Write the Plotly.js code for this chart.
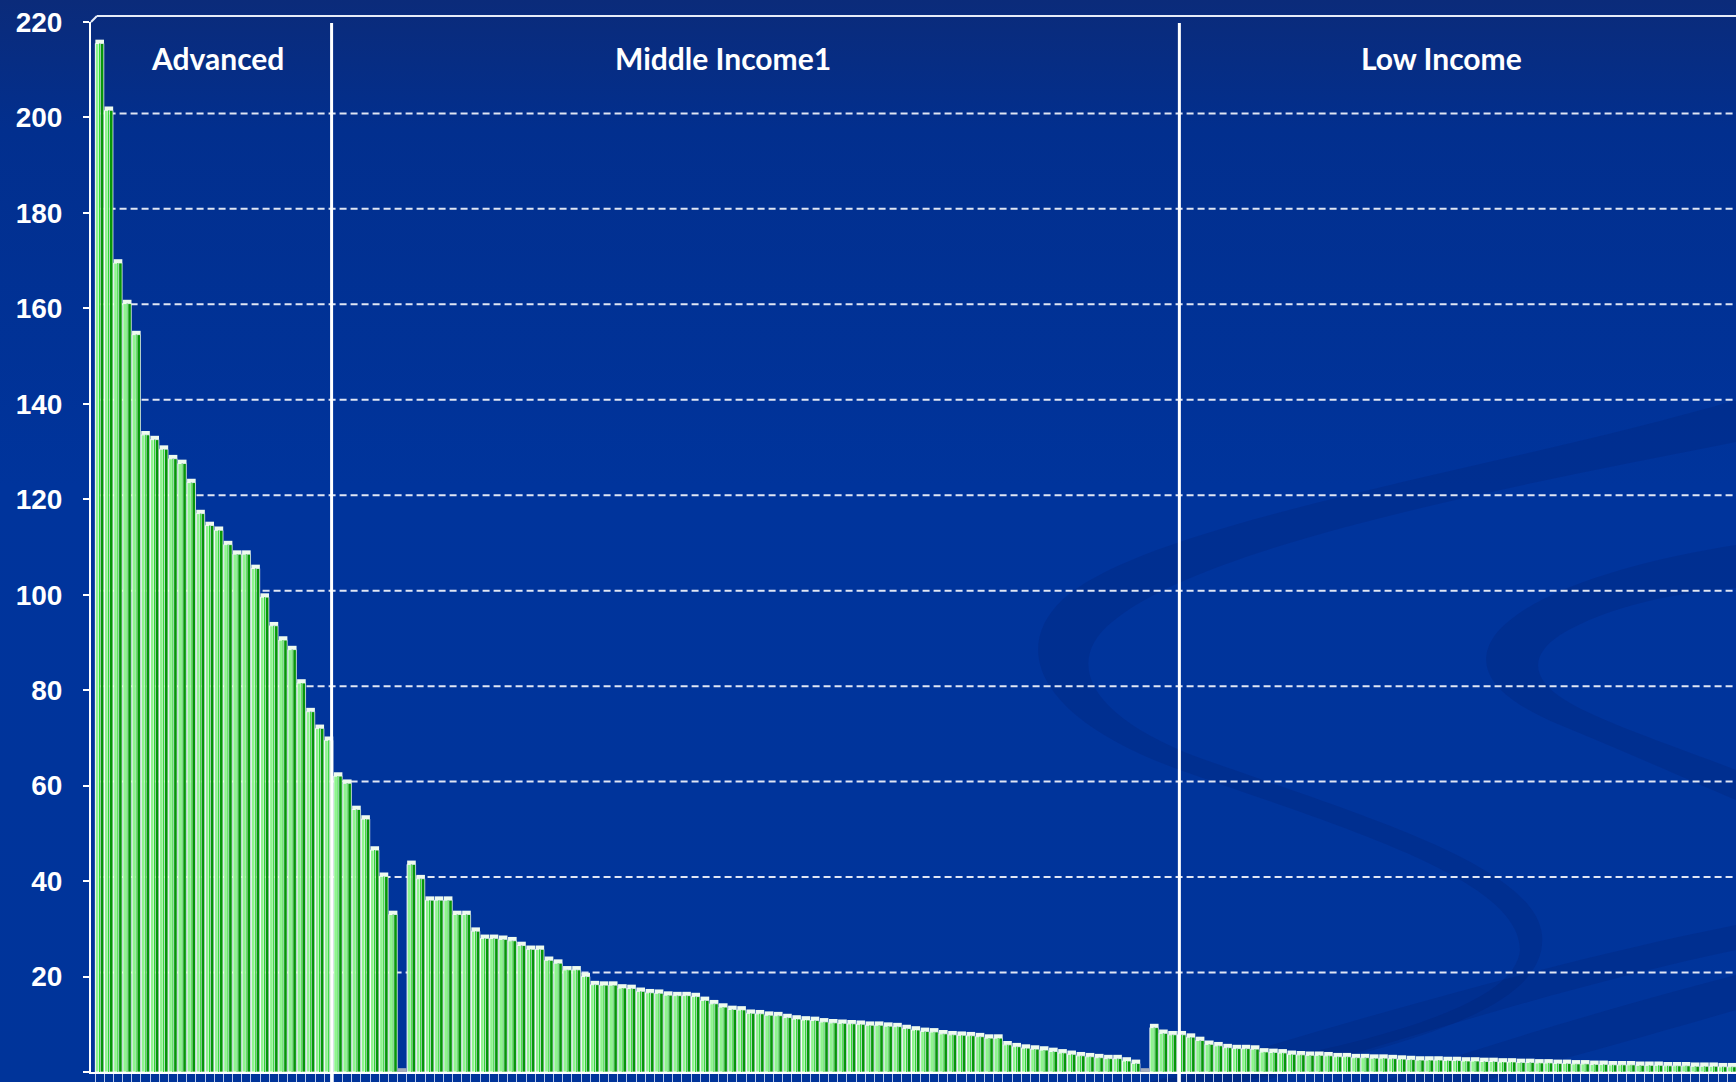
<!DOCTYPE html>
<html>
<head>
<meta charset="utf-8">
<script src="https://cdn.plot.ly/plotly-3.0.1.min.js"></script>
<style>
  html, body { margin: 0; padding: 0; overflow: hidden; background: #00339a; }
  #wrap { position: relative; width: 1736px; height: 1082px; }
  #bg { position: absolute; left: 0; top: 0; }
  #chart { position: absolute; left: 0; top: 0; width: 1736px; height: 1082px; }
</style>
</head>
<body>
<div id="wrap">
  <!-- slide backdrop: blue gradient with soft darker ribbons -->
  <svg id="bg" width="1736" height="1082" viewBox="0 0 1736 1082">
    <defs>
      <linearGradient id="sky" x1="0" y1="0" x2="0" y2="1">
        <stop offset="0" stop-color="#0b2b7a"/>
        <stop offset="0.12" stop-color="#022f8e"/>
        <stop offset="0.45" stop-color="#00349c"/>
        <stop offset="1" stop-color="#00349a"/>
      </linearGradient>
    </defs>
    <rect x="0" y="0" width="1736" height="1082" fill="url(#sky)"/>
    <g fill="rgba(0,20,85,0.15)">
      <path d="M1736 400 C1500 470 1150 520 1062 600 C1010 650 1040 720 1180 770 C1350 830 1520 880 1520 950 C1515 1010 1350 1050 1150 1082 L1240 1082 C1440 1040 1548 1000 1542 935 C1535 865 1360 815 1200 758 C1085 715 1065 660 1112 622 C1200 548 1480 492 1736 442 Z"/>
      <path d="M1736 545 C1640 560 1530 590 1495 635 C1470 670 1500 700 1560 725 C1640 758 1700 785 1736 800 L1736 770 C1680 748 1600 722 1565 700 C1530 678 1530 655 1560 635 C1610 605 1680 592 1736 588 Z"/>
      <path d="M1150 1082 C1350 1020 1560 960 1736 925 L1736 950 C1570 985 1400 1040 1260 1082 Z"/>
      <path d="M1380 1082 C1500 1040 1640 1000 1736 975 L1736 1010 C1650 1035 1560 1060 1480 1082 Z"/>
    </g>
  </svg>
  <div id="chart"></div>
</div>
<script>
// Bar heights, left to right, by income group
const advancedValues = [215.5, 201.5, 169.5, 161, 154.5, 133.5, 132.5, 130.5, 128.5, 127.5,
  123.5, 117, 114.5, 113.5, 110.5, 108.5, 108.5, 105.5, 99.5, 93.5,
  90.5, 88.5, 81.5, 75.5, 72, 69.5];

const middleIncomeValues = [62, 60.5, 55, 53, 46.5, 41, 33, 0,
  43.5, 40.5, 36, 36, 36, 33, 33, 29.5, 28, 28, 27.8, 27.5,
  26.5, 25.7, 25.7, 23.4, 22.8, 21.4, 21.4, 20, 18.3, 18.2,
  18.2, 17.6, 17.5, 16.9, 16.6, 16.5, 16.1, 16, 16, 15.8,
  15, 14.3, 13.6, 13.1, 13, 12.3, 12.2, 11.9, 11.8, 11.4,
  11.1, 10.9, 10.8, 10.5, 10.3, 10.2, 10.1, 10, 9.8, 9.8,
  9.6, 9.5, 9.1, 8.8, 8.5, 8.4, 8, 7.8, 7.7, 7.6,
  7.4, 7.1, 7.1, 5.7, 5.3, 5.0, 4.8, 4.6, 4.3, 4.0,
  3.7, 3.4, 3.2, 3.0, 2.8, 2.8, 2.3, 1.8, 0,
  9.3, 8.1, 7.8];

const lowIncomeValues = [7.8, 7.3, 6.6, 5.8, 5.5, 5.1, 4.9, 4.9, 4.8, 4.2,
  4.1, 4.0, 3.7, 3.6, 3.5, 3.5, 3.4, 3.2, 3.2, 3.0,
  3.0, 2.9, 2.9, 2.8, 2.7, 2.6, 2.5, 2.5,
  2.5, 2.4, 2.4, 2.3, 2.3, 2.2, 2.2, 2.1, 2.1, 2.0,
  2.0, 1.9, 1.9, 1.8, 1.8, 1.7, 1.7, 1.6, 1.6, 1.5,
  1.5, 1.5, 1.4, 1.4, 1.4, 1.3, 1.3, 1.3, 1.2, 1.2,
  1.2, 1.1, 1.1];

const groupLabels = ["Advanced", "Middle Income1", "Low Income"];
const yTickValues = [0, 20, 40, 60, 80, 100, 120, 140, 160, 180, 200, 220];

const values = advancedValues.concat(middleIncomeValues, lowIncomeValues);
const idx = values.map((_, i) => i);

// pseudo-3D column: light front face, bright edge, dark side, pale top cap
const CAP = 0.8;
const face = {
  type: "bar", x: idx, y: values, offset: -0.46, width: 0.4,
  marker: { color: "#8ef48e", line: { color: "#ffffff", width: 1 } },
  hoverinfo: "skip"
};
const edge = {
  type: "bar", x: idx, y: values, offset: -0.06, width: 0.14,
  marker: { color: "#14d614", line: { width: 0 } },
  hoverinfo: "skip"
};
const side = {
  type: "bar", x: idx, y: values, offset: 0.08, width: 0.38,
  marker: { color: "#06960a", line: { color: "rgba(255,255,255,0.9)", width: 0.8 } },
  hoverinfo: "skip"
};
const cap = {
  type: "bar", x: idx, y: values.map(() => CAP), base: values,
  offset: -0.46, width: 0.94,
  marker: { color: values.map(v => v === 0 ? "#a4acbc" : "#eefbee"), line: { width: 0 } },
  hoverinfo: "skip"
};

// geometry of the plotting area
const W = 1736, H = 1082;
const M = { l: 91, r: 0, t: 22, b: 10 };
const plotW = W - M.l - M.r, plotH = H - M.t - M.b;
const xRange = [-0.936, 178.45];
const gridLift = 0.85;            // back-wall gridlines sit a little above the ticks

const shapes = [];
yTickValues.filter(v => v > 0 && v < 220).forEach(v => {
  shapes.push({
    type: "line", layer: "below", xref: "paper", yref: "y",
    x0: 0.004, x1: 1, y0: v + gridLift, y1: v + gridLift,
    line: { color: "rgba(236,240,250,0.95)", width: 2, dash: "7px,4px" }
  });
});
// top edge of the back wall
shapes.push({
  type: "line", layer: "below", xref: "paper", yref: "paper",
  x0: 0.0036, x1: 1, y0: 1 + 6 / plotH, y1: 1 + 6 / plotH,
  line: { color: "#e6ecf8", width: 2 }
});
shapes.push({
  type: "line", layer: "below", xref: "paper", yref: "paper",
  x0: 0, x1: 0.0036, y0: 1, y1: 1 + 6 / plotH,
  line: { color: "#e6ecf8", width: 2 }
});
// group dividers
[25.3, 117.75].forEach(xv => {
  shapes.push({
    type: "line", layer: "above", xref: "x", yref: "paper",
    x0: xv, x1: xv, y0: -M.b / plotH, y1: 1 - 1 / plotH,
    line: { color: "#ffffff", width: 3 }
  });
});

const labelX = [12.9, 68.0, 146.3];
const annotations = groupLabels.map((t, i) => ({
  text: t, x: labelX[i], y: 212.5, xref: "x", yref: "y",
  showarrow: false, xanchor: "center", yanchor: "middle",
  font: { family: "Lato, 'Open Sans', sans-serif", size: 30, color: "#ffffff", weight: "bold" }
}));

const layout = {
  width: W, height: H, margin: M,
  paper_bgcolor: "rgba(0,0,0,0)", plot_bgcolor: "rgba(0,0,0,0)",
  barmode: "overlay", showlegend: false,
  xaxis: {
    range: xRange, showgrid: false, zeroline: false,
    showline: true, linecolor: "#ffffff", linewidth: 2,
    ticks: "outside", tickmode: "linear", tick0: -0.5, dtick: 1,
    ticklen: 10, tickwidth: 1, tickcolor: "rgba(215,225,250,0.85)",
    showticklabels: false, fixedrange: true
  },
  yaxis: {
    range: [0, 220], tickmode: "array", tickvals: yTickValues,
    showgrid: false, zeroline: false,
    showline: true, linecolor: "#ffffff", linewidth: 2,
    ticks: "outside", ticklen: 6, tickwidth: 2, tickcolor: "#ffffff",
    ticklabelstandoff: 15,
    tickfont: { family: "'Liberation Sans', Arial, sans-serif", size: 28, color: "#ffffff", weight: "bold" },
    fixedrange: true
  },
  shapes: shapes,
  annotations: annotations
};

Plotly.newPlot("chart", [face, edge, side, cap], layout, { displayModeBar: false, staticPlot: true });
</script>
</body>
</html>
